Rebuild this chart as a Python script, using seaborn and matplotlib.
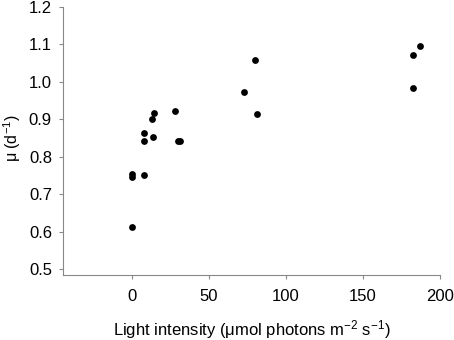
import matplotlib
matplotlib.use("Agg")
from matplotlib import pyplot as plt
import seaborn as sns
import pandas as pd

# light intensity (umol photons m-2 s-1) and growth rate mu (d-1)
light = [0, 0, 0, 8.1, 8.1, 8.1, 14.1, 12.9, 14.4, 28.3, 30.4, 31.5,
         72.8, 79.8, 81.5, 182.5, 186.9, 182.5]
mu = [0.613, 0.754, 0.747, 0.751, 0.864, 0.841, 0.854, 0.902, 0.917, 0.922,
      0.843, 0.841, 0.972, 1.059, 0.913, 1.072, 1.096, 0.984]
xticks = [0, 50, 100, 150, 200]
yticks = [0.5, 0.6, 0.7, 0.8, 0.9, 1.0, 1.1, 1.2]

df = pd.DataFrame({"light": light, "mu": mu})

sns.set_style("ticks")
plt.rcParams["font.family"] = ["Liberation Sans", "DejaVu Sans"]
plt.rcParams["mathtext.fontset"] = "custom"
plt.rcParams["mathtext.rm"] = "Liberation Sans"
plt.rcParams["mathtext.default"] = "rm"

fig = plt.figure(figsize=(4.54, 3.40), dpi=100)
ax = fig.add_axes([63 / 454, 65 / 340, (440 - 63) / 454, (275 - 7) / 340])

sns.scatterplot(data=df, x="light", y="mu", color="black", s=24,
                edgecolor="black", linewidth=0, ax=ax)

ax.set_xlim(-44.5, 200)
ax.set_ylim(0.484, 1.2)
ax.set_xticks(xticks)
ax.set_yticks(yticks)
ax.set_yticklabels([f"{v:.1f}" for v in yticks])
ax.tick_params(labelsize=12, length=3, color="#888888", width=0.8,
               labelcolor="black")
ax.tick_params(axis="x", pad=7)
ax.tick_params(axis="y", pad=5)
for side in ["left", "bottom"]:
    ax.spines[side].set_color("#888888")
    ax.spines[side].set_linewidth(0.8)
sns.despine(ax=ax)

ax.set_xlabel("Light intensity (\u03bcmol photons m$^{-2}$ s$^{-1}$)",
              fontsize=12, color="black", labelpad=10)
ax.set_ylabel("\u03bc (d$^{-1}$)", fontsize=11.5, color="black",
              va="center", ha="center")
ax.yaxis.set_label_coords(-0.135, 0.51)

fig.savefig("out.png", dpi=100)
